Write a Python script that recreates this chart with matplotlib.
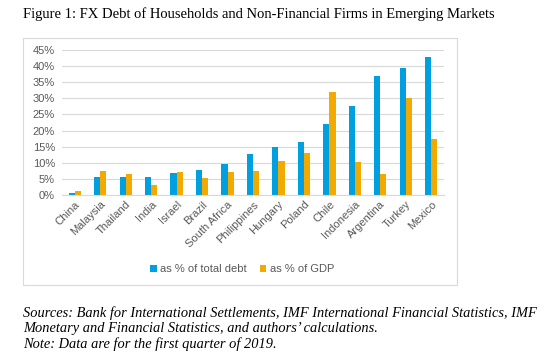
import matplotlib
matplotlib.use("Agg")
import matplotlib.pyplot as plt
from matplotlib.patches import Rectangle
import numpy as np

countries = ["China", "Malaysia", "Thailand", "India", "Israel", "Brazil", "South Africa",
             "Philippines", "Hungary", "Poland", "Chile", "Indonesia", "Argentina", "Turkey", "Mexico"]
pct_total_debt = [0.5, 5.5, 5.7, 5.7, 6.9, 7.8, 9.7, 12.7, 14.9, 16.5, 21.9, 27.5, 36.9, 39.3, 42.7]
pct_gdp = [1.3, 7.4, 6.4, 3.2, 7.2, 5.2, 7.0, 7.4, 10.7, 13.1, 32.0, 10.3, 6.6, 30.1, 17.5]
yticks = [0, 5, 10, 15, 20, 25, 30, 35, 40, 45]

W, H = 550, 356
fig = plt.figure(figsize=(W / 100, H / 100), dpi=100)

# chart box
fig.patches.append(Rectangle((23 / W, 1 - 285 / H), (457 - 23) / W, (285 - 38) / H,
                             transform=fig.transFigure, fill=False, edgecolor="#D9D9D9", lw=0.8))

ax = fig.add_axes([62 / W, 1 - 195 / H, (444 - 62) / W, (195 - 50) / H])
x = np.arange(len(countries))
w = 0.24
ax.bar(x - w / 2, pct_total_debt, w, color="#009FDF", label="as % of total debt")
ax.bar(x + w / 2, pct_gdp, w, color="#F2A900", label="as % of GDP")

ax.set_xlim(-0.5, len(countries) - 0.5)
ax.set_ylim(0, 45)
ax.set_yticks(yticks)
ax.set_yticklabels([f"{t}%" for t in yticks])
ax.yaxis.grid(True, color="#D9D9D9", lw=0.8)
ax.set_axisbelow(True)
for s in ["top", "right", "left"]:
    ax.spines[s].set_visible(False)
ax.spines["bottom"].set_color("#D9D9D9")
ax.tick_params(axis="both", length=0, colors="#595959", labelsize=8)
ax.tick_params(axis="y", pad=5)
ax.tick_params(axis="x", pad=3)
ax.set_xticks(x)
ax.set_xticklabels(countries, rotation=45, ha="right", rotation_mode="anchor")
for lab in ax.get_xticklabels() + ax.get_yticklabels():
    lab.set_fontfamily("Liberation Sans")

leg = fig.legend(loc="center", bbox_to_anchor=(242 / W, 1 - 269 / H), ncol=2, frameon=False,
                 prop={"family": "Liberation Sans", "size": 8}, handlelength=0.6, handleheight=0.6,
                 handletextpad=0.3, columnspacing=1.2, labelcolor="#595959")

fig.text(23 / W, 1 - 14 / H, "Figure 1: FX Debt of Households and Non-Financial Firms in Emerging Markets",
         family="Liberation Serif", fontsize=10.5, va="center", ha="left")
foot = ["Sources: Bank for International Settlements, IMF International Financial Statistics, IMF",
        "Monetary and Financial Statistics, and authors\u2019 calculations.",
        "Note: Data are for the first quarter of 2019."]
for i, line in enumerate(foot):
    fig.text(23 / W, 1 - (313 + 15.5 * i) / H, line, family="Liberation Serif", style="italic",
             fontsize=10.4, va="center", ha="left")

fig.savefig("out.png", dpi=100)
